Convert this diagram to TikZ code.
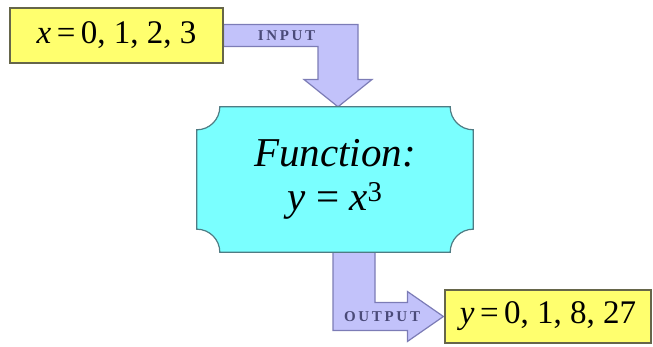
\documentclass[tikz,border=0pt]{standalone}
\usepackage{fontspec}
\setmainfont{Liberation Serif}
\newfontfamily\timesfont{Liberation Serif}
\usepackage{tikz}
\usetikzlibrary{positioning,calc,backgrounds}
\definecolor{BoxYellow}{HTML}{FFFF6E}
\definecolor{BoxEdge}{HTML}{66664A}
\definecolor{FnCyan}{HTML}{7AFFFF}
\definecolor{FnEdge}{HTML}{4F7C84}
\definecolor{Lavender}{HTML}{C2C2FA}
\definecolor{LavEdge}{HTML}{7C7CB6}
\definecolor{TagInk}{HTML}{4A4A78}

\begin{document}
\begin{tikzpicture}[x=1pt,y=1pt,
    valbox/.style={rectangle,draw=BoxEdge,fill=BoxYellow,line width=1.2pt,inner sep=0pt,font=\timesfont\fontsize{33}{38}\selectfont},
    fnbox/.style={rectangle,inner sep=0pt,minimum width=276pt,minimum height=145pt,align=center,font=\timesfont\fontsize{41}{46}\selectfont},
    plaque/.style={draw=FnEdge,fill=FnCyan,line width=1.2pt},
    fatarrow/.style={draw=LavEdge,fill=Lavender,line width=1.2pt,line join=miter},
    tag/.style={inner sep=0pt,text=TagInk,font=\timesfont\fontsize{15}{15}\selectfont\bfseries\addfontfeature{LetterSpace=18}}
]
\useasboundingbox (0,0) rectangle (653,347);
\node[valbox,minimum width=213pt,minimum height=55pt] (in) at (116.5,311.5) {\textit{x}\,=\,0, 1, 2, 3};
\node[fnbox] (fn) at (335,167.5) {\textit{Function:}\\[-2pt]\textit{y} = \textit{x}\textsuperscript{3}};
\node[valbox,minimum width=206pt,minimum height=53pt] (out) at (548,30.5) {\textit{y}\,=\,0, 1, 8, 27};
% bends of the two block arrows
\coordinate (ink) at ($(in.east -| fn.north)+(3,0)$);
\coordinate (outk) at ([xshift=19pt]fn.south |- out.west);
\begin{scope}[on background layer]
  \draw[fatarrow] ([yshift=11pt]in.east) -- ($(ink)+(20,11)$) -- ($(ink)+(20,-44)$) -- ($(ink)+(34,-44)$)
    -- ([xshift=3pt]fn.north) -- ($(ink)+(-34,-44)$) -- ($(ink)+(-20,-44)$) -- ($(ink)+(-20,-11)$)
    -- ([yshift=-11pt]in.east) -- cycle;
  \draw[fatarrow] ($(outk |- fn.south)+(-21,0)$) -- ($(outk |- fn.south)+(21,0)$) -- ($(outk)+(21,14)$)
    -- ($(out.west)+(-37,14)$) -- ($(out.west)+(-37,25)$) -- ([xshift=-1pt]out.west) -- ($(out.west)+(-37,-25)$)
    -- ($(out.west)+(-37,-14)$) -- ($(outk)+(-21,-14)$) -- cycle;
  \draw[plaque] ([yshift=-23pt]fn.north west) arc[start angle=270,end angle=360,radius=23pt]
    -- ([xshift=-23pt]fn.north east) arc[start angle=180,end angle=270,radius=23pt]
    -- ([yshift=23pt]fn.south east) arc[start angle=90,end angle=180,radius=23pt]
    -- ([xshift=23pt]fn.south west) arc[start angle=0,end angle=90,radius=23pt] -- cycle;
\end{scope}
\node[tag] (intag) at ($(in.east)!0.55!(ink)$) {INPUT};
\node[tag] (outtag) at ($(outk)!0.31!(out.west)$) {OUTPUT};
\end{tikzpicture}
\end{document}
